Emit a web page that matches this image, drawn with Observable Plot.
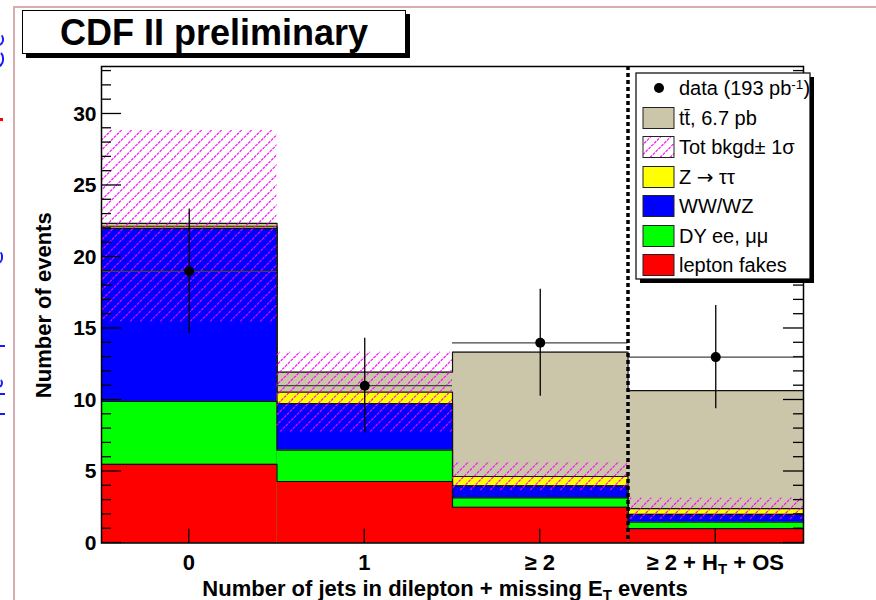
<!DOCTYPE html>
<html>
<head>
<meta charset="utf-8">
<script src="https://cdn.jsdelivr.net/npm/d3@7"></script>
<script src="https://cdn.jsdelivr.net/npm/@observablehq/plot@0.6"></script>
<style>
  html, body { margin: 0; padding: 0; background: #fff; }
  #wrap { position: relative; width: 876px; height: 600px; overflow: hidden;
          font-family: "Liberation Sans", Arial, Helvetica, sans-serif; }
  #page-edge { position: absolute; left: 13px; top: 6px; right: -10px; bottom: -10px;
               border-left: 2px solid #d6aeae; border-top: 2px solid #d6aeae; }
  .edge-mark { position: absolute; border: 2.5px solid #1a1aff; border-left: none; border-top-color: transparent; }
  #chart { position: absolute; left: 0; top: 0; }
  #title { position: absolute; left: 22px; top: 10px; width: 382px; height: 42px;
           border: 1.5px solid #000; box-shadow: 4px 4px 0 #000; background: #fff;
           font-weight: bold; font-size: 36px; line-height: 44px; text-align: center; }
</style>
</head>
<body>
<div id="wrap">
  <div id="page-edge"></div>
  <div class="edge-mark" style="left:-6px;top:33px;width:8px;height:9px;border-radius:0 6px 6px 0"></div>
  <div class="edge-mark" style="left:-6px;top:50px;width:8px;height:14px;border-radius:0 8px 8px 0"></div>
  <div style="position:absolute;left:0;top:118px;width:3px;height:3px;background:#ff0000"></div>
  <div class="edge-mark" style="left:-6px;top:250px;width:7px;height:10px;border-radius:0 6px 6px 0"></div>
  <div style="position:absolute;left:0;top:345px;width:5px;height:2px;background:#1a1aff"></div>
  <div class="edge-mark" style="left:-6px;top:378px;width:7px;height:6px;border-radius:0 5px 5px 0"></div>
  <div style="position:absolute;left:0;top:393px;width:5px;height:2px;background:#1a1aff"></div>
  <div style="position:absolute;left:0;top:413px;width:5px;height:2px;background:#1a1aff"></div>
  <div id="chart"></div>
  <div id="title">CDF II preliminary</div>
</div>
<script>
// Jet-multiplicity bins (a "_T" marks a subscript T)
const jetBins = ["0", "1", "≥ 2", "≥ 2 + H_T + OS"];

// Expected events per bin, stacked bottom to top
const leptonFakes = [5.5, 4.3, 2.5, 1.0];
const dyEeMuMu    = [4.4, 2.2, 0.65, 0.45];
const wwWz        = [12.1, 3.25, 0.85, 0.55];
const zTauTau     = [0.15, 0.8, 0.65, 0.4];
const ttbar       = [0.2, 1.4, 8.7, 8.25];

// 1-sigma uncertainty on the total background
const bkgdSigma = [6.7, 2.8, 1.0, 0.75];

// Observed events (193 pb^-1)
const dataCounts = [19, 11, 14, 13];

// Axis
const yTicks = [0, 5, 10, 15, 20, 25, 30];
const yMax = 33.32;
const xTitle = "Number of jets in dilepton + missing E_T events";
const yTitle = "Number of events";

// Legend text
const legendData = "data (193 pb^-1)";
const legendTt = "tt\u0304, 6.7 pb";
const legendBand = "Tot bkgd\u00b1 1\u03c3";
const legendZtt = "Z \u2192 \u03c4\u03c4";
const legendWw = "WW/WZ";
const legendDy = "DY ee, \u03bc\u03bc";
const legendFakes = "lepton fakes";

const FONT = '"Liberation Sans", Arial, Helvetica, sans-serif';
const HATCH = "#ff00ff";
const colors = { fakes: "#ff0000", dy: "#00ff00", ww: "#0000ff", ztt: "#ffff00", tt: "#cbc5a9" };

// Cumulative stack tops
const stackSeries = [
  { values: leptonFakes, color: colors.fakes },
  { values: dyEeMuMu, color: colors.dy },
  { values: wwWz, color: colors.ww },
  { values: zTauTau, color: colors.ztt },
  { values: ttbar, color: colors.tt }
];
let running = jetBins.map(() => 0);
const layers = stackSeries.map(s => {
  running = running.map((r, i) => r + s.values[i]);
  return { color: s.color, tops: running.slice() };
});
const bkgdTotal = jetBins.map((_, i) => leptonFakes[i] + dyEeMuMu[i] + wwWz[i] + zTauTau[i]);
const band = jetBins.map((_, i) => ({ bin: i, lo: bkgdTotal[i] - bkgdSigma[i], hi: bkgdTotal[i] + bkgdSigma[i] }));
const points = dataCounts.map((n, i) => ({ bin: i, n, err: Math.sqrt(n) }));

// Text with "_X" subscripts, "^X" superscripts and a wide arrow, as tspans
function richText(sel, str) {
  const parts = str.split(/([_^][^\s)]+|\u2192)/).filter(p => p);
  let back = 0;
  for (const p of parts) {
    if (p[0] === "_" || p[0] === "^") {
      const dy = p[0] === "_" ? 0.3 : -0.45;
      sel.append("tspan").attr("dy", `${dy}em`).attr("font-size", "0.68em").text(p.slice(1));
      back = -dy * 0.68;
    } else {
      const t = sel.append("tspan").text(p);
      if (p === "\u2192") t.attr("font-family", '"DejaVu Sans", sans-serif');
      if (back) { t.attr("dy", `${back}em`); back = 0; }
    }
  }
}

// Hatched fill drawn as explicit diagonal lines clipped to a rectangle
function hatchRect(g, x0, y0, x1, y1, id) {
  const clip = g.append("clipPath").attr("id", id);
  clip.append("rect").attr("x", x0).attr("y", y0).attr("width", x1 - x0).attr("height", y1 - y0);
  const h = g.append("g").attr("clip-path", `url(#${id})`)
    .attr("stroke", HATCH).attr("stroke-width", 1.1).attr("stroke-dasharray", "3,1");
  const step = 10;
  const span = y1 - y0;
  const start = Math.floor((x0 - span) / step) * step;
  for (let s = start; s <= x1; s += step) {
    h.append("line").attr("x1", s).attr("y1", y1).attr("x2", s + span).attr("y2", y0);
  }
}

const marks = [];

// Stacked histograms: largest cumulative first, each with its step outline
for (const layer of [...layers].reverse()) {
  const rows = layer.tops.map((top, i) => ({ bin: i, top }));
  marks.push(Plot.rect(rows, { x1: "bin", x2: d => d.bin + 1, y1: () => 0, y2: "top", fill: layer.color }));
  const steps = [...rows, { bin: rows.length, top: rows[rows.length - 1].top }];
  marks.push(Plot.line(steps, { x: "bin", y: "top", curve: "step-after", stroke: "#111", strokeWidth: 1.2 }));
}

// Total background +/- 1 sigma hatched band
marks.push((index, scales) => {
  const { x, y } = scales;
  const g = d3.create("svg:g");
  band.forEach((b, i) => hatchRect(g, x(b.bin), y(b.hi), x(b.bin + 1), y(b.lo), `band-clip-${i}`));
  return g.node();
});

// Axis ticks pointing inward (left, right and bottom)
marks.push((index, scales, values, dims) => {
  const { x, y } = scales;
  const left = dims.marginLeft, right = dims.width - dims.marginRight;
  const bottom = dims.height - dims.marginBottom;
  const g = d3.create("svg:g").attr("stroke", "#000").attr("stroke-width", 1.3);
  for (const v of d3.range(0, Math.floor(yMax) + 1)) {
    const len = v % 5 === 0 ? 20 : 10;
    const py = y(v);
    g.append("line").attr("x1", left).attr("x2", left + len).attr("y1", py).attr("y2", py);
    g.append("line").attr("x1", right).attr("x2", right - len).attr("y1", py).attr("y2", py);
  }
  jetBins.forEach((_, i) => {
    const px = x(i + 0.5);
    g.append("line").attr("x1", px).attr("x2", px).attr("y1", bottom).attr("y2", bottom - 14);
  });
  return g.node();
});

// Data: horizontal bin-width bars, Poisson error bars, markers
marks.push(Plot.ruleY(points, { y: "n", x1: "bin", x2: d => d.bin + 1, stroke: "#444", strokeWidth: 1.3 }));
marks.push(Plot.ruleX(points, { x: d => d.bin + 0.5, y1: d => d.n - d.err, y2: d => d.n + d.err, stroke: "#000", strokeWidth: 1.3 }));
marks.push(Plot.dot(points, { x: d => d.bin + 0.5, y: "n", r: 5, fill: "#000", stroke: null }));

// Dotted separator before the H_T + OS bin
marks.push(Plot.ruleX([jetBins.length - 1], { stroke: "#000", strokeWidth: 3.5, strokeDasharray: "4,3" }));

// Frame
marks.push(Plot.frame({ stroke: "#000", strokeWidth: 1.5 }));

// Y tick labels
marks.push(Plot.axisY(yTicks, { tickSize: 0, tickPadding: 5, fontSize: 21, fontWeight: "bold", label: null }));

// X tick labels and axis titles
marks.push((index, scales, values, dims) => {
  const { x } = scales;
  const bottom = dims.height - dims.marginBottom;
  const g = d3.create("svg:g").attr("font-family", FONT).attr("font-weight", "bold").attr("fill", "#000");
  jetBins.forEach((lab, i) => {
    const t = g.append("text").attr("x", x(i + 0.5)).attr("y", bottom + 27).attr("font-size", 22).attr("text-anchor", "middle");
    richText(t, lab);
  });
  const xt = g.append("text").attr("x", x(2) - 7).attr("y", bottom + 53).attr("font-size", 22).attr("text-anchor", "middle");
  richText(xt, xTitle);
  const top = dims.marginTop;
  const cy = (top + bottom) / 2 + 1;
  g.append("text").attr("transform", `translate(51,${cy}) rotate(-90)`)
    .attr("font-size", 22).attr("text-anchor", "middle").text(yTitle);
  return g.node();
});

// Legend
marks.push(() => {
  const g = d3.create("svg:g").attr("font-family", FONT).attr("font-size", 20).attr("fill", "#000");
  const bx = 636, by = 73, bw = 174, bh = 206;
  g.append("rect").attr("x", bx + 4).attr("y", by + 4).attr("width", bw).attr("height", bh).attr("fill", "#000");
  g.append("rect").attr("x", bx).attr("y", by).attr("width", bw).attr("height", bh).attr("fill", "#fff").attr("stroke", "#000").attr("stroke-width", 1.2);
  const rows = [
    { text: legendData, kind: "dot", y: 88 },
    { text: legendTt, fill: colors.tt, y: 118 },
    { text: legendBand, fill: "#fff", kind: "hatch", y: 147 },
    { text: legendZtt, fill: colors.ztt, y: 177 },
    { text: legendWw, fill: colors.ww, y: 206 },
    { text: legendDy, fill: colors.dy, y: 236 },
    { text: legendFakes, fill: colors.fakes, y: 265 }
  ];
  for (const r of rows) {
    if (r.kind === "dot") {
      g.append("circle").attr("cx", 659).attr("cy", r.y).attr("r", 5).attr("fill", "#000");
    } else {
      g.append("rect").attr("x", 643).attr("y", r.y - 10.5).attr("width", 31).attr("height", 21).attr("fill", r.fill);
      if (r.kind === "hatch") hatchRect(g, 643, r.y - 10.5, 674, r.y + 10.5, "legend-hatch-clip");
      g.append("rect").attr("x", 643).attr("y", r.y - 10.5).attr("width", 31).attr("height", 21)
        .attr("fill", "none").attr("stroke", "#222").attr("stroke-width", 1);
    }
    const t = g.append("text").attr("x", 679).attr("y", r.y).attr("dy", "0.36em").attr("text-anchor", "start");
    richText(t, r.text);
  }
  return g.node();
});

const chart = Plot.plot({
  width: 876,
  height: 600,
  marginLeft: 101,
  marginRight: 73,
  marginTop: 66,
  marginBottom: 57.5,
  style: { background: "transparent", fontFamily: FONT, color: "#000" },
  x: { domain: [0, jetBins.length], axis: null },
  y: { domain: [0, yMax], axis: null },
  marks
});

document.getElementById("chart").appendChild(chart);
</script>
</body>
</html>
